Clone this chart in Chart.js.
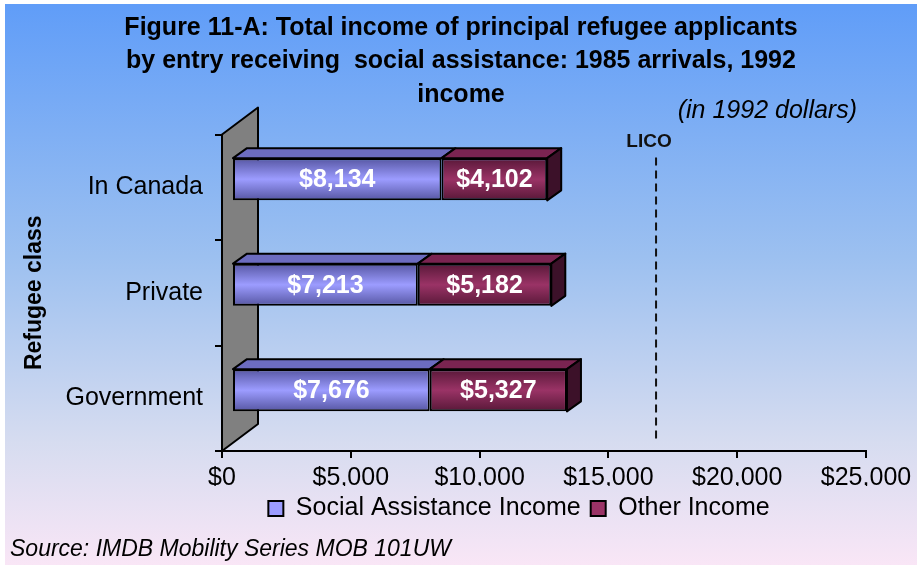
<!DOCTYPE html>
<html>
<head>
<meta charset="utf-8">
<script src="https://cdn.jsdelivr.net/npm/chart.js@4.4.1/dist/chart.umd.min.js"></script>
<style>
	html, body { margin: 0; padding: 0; background: #ffffff; }
	#wrap {
		position: relative; width: 917px; height: 566px; overflow: hidden;
		font-family: "Liberation Sans", Arial, sans-serif;
	}
	#panel {
		position: absolute; left: 5px; top: 4px; right: 0; bottom: 1px;
		background: linear-gradient(to bottom, #609df8 0%, #9cc0f0 45%, #d6dcf0 78%, #f9e6f6 100%);
	}
	#chart { position: absolute; left: 0; top: 0; }
	.note { position: absolute; font-style: italic; color: #000; white-space: nowrap; }
	#units { right: 60px; top: 95px; font-size: 25px; }
	#source { left: 10px; top: 535px; font-size: 23px; }
</style>
</head>
<body>
<div id="wrap">
	<div id="panel"></div>
	<canvas id="chart" width="917" height="566"></canvas>
	<div class="note" id="units">(in 1992 dollars)</div>
	<div class="note" id="source">Source: IMDB Mobility Series MOB 101UW</div>
</div>
<script>
// chart data
const categories = ["In Canada", "Private", "Government"];
const socialAssistance = [8134, 7213, 7676];
const otherIncome = [4102, 5182, 5327];
const seriesNames = ["Social Assistance Income", "Other Income"];
const xTicks = [0, 5000, 10000, 15000, 20000, 25000];
const LICO = 16850;

const FONT = "'Liberation Sans', Arial, sans-serif";
// 3D look: bar front sits a bit inside the floor, top face goes further back
const BAR_SHIFT = { x: 10, y: -8 };
const BAR_DEPTH = { x: 14, y: -10 };
const WALL_DEPTH = { x: 36, y: -27 };

const COLORS = [
	{ edge: "#5656a2", mid: "#9c9cff", top: "#6c6cc0", side: "#3c3c80" },
	{ edge: "#581838", mid: "#9a3366", top: "#7a2451", side: "#3c1129" }
];

function money(v) {
	return "$" + v.toLocaleString("en-US");
}

function frontGradient(c, col) {
	const chart = c.chart;
	const ys = chart.scales.y;
	if (!ys || c.dataIndex === undefined) return col.mid;
	const band = Math.abs(ys.getPixelForValue(1) - ys.getPixelForValue(0));
	const cy = ys.getPixelForValue(c.dataIndex);
	const h = band * 0.4;
	const g = chart.ctx.createLinearGradient(0, cy - h / 2, 0, cy + h / 2);
	g.addColorStop(0, col.edge);
	g.addColorStop(0.5, col.mid);
	g.addColorStop(1, col.edge);
	return g;
}

function poly(ctx, pts, fill) {
	ctx.beginPath();
	ctx.moveTo(pts[0][0], pts[0][1]);
	for (let i = 1; i < pts.length; i++) ctx.lineTo(pts[i][0], pts[i][1]);
	ctx.closePath();
	ctx.fillStyle = fill;
	ctx.fill();
	ctx.stroke();
}

const threeD = {
	id: "threeD",
	afterLayout(chart) {
		// the original centres the title on the whole panel and the legend under the plot
		if (chart.titleBlock) { chart.titleBlock.left = 5; chart.titleBlock.right = 917; }
		if (chart.legend) { chart.legend.left = 172; chart.legend.right = 866; }
	},
	beforeDatasetsDraw(chart) {
		const { ctx, chartArea: a } = chart;
		ctx.save();
		ctx.lineWidth = 2;
		ctx.strokeStyle = "#000";
		ctx.lineJoin = "round";
		// back wall on the left
		poly(ctx, [
			[a.left, a.top], [a.left + WALL_DEPTH.x, a.top + WALL_DEPTH.y],
			[a.left + WALL_DEPTH.x, a.bottom + WALL_DEPTH.y], [a.left, a.bottom]
		], "#808080");
		ctx.restore();

		// LICO reference line
		const lx = chart.scales.x.getPixelForValue(LICO);
		ctx.save();
		ctx.strokeStyle = "#111";
		ctx.lineWidth = 2;
		ctx.setLineDash([8, 5]);
		ctx.beginPath();
		ctx.moveTo(lx, a.top + 23);
		ctx.lineTo(lx, a.bottom - 9);
		ctx.stroke();
		ctx.setLineDash([]);
		ctx.fillStyle = "#111";
		ctx.font = "bold 19px " + FONT;
		ctx.textAlign = "center";
		ctx.textBaseline = "middle";
		ctx.fillText("LICO", lx - 7, a.top + 7);
		ctx.restore();

		// top and side faces, then let chart.js draw the fronts
		ctx.save();
		ctx.translate(BAR_SHIFT.x, BAR_SHIFT.y);
		ctx.lineWidth = 2;
		ctx.strokeStyle = "#000";
		ctx.lineJoin = "round";
		chart.data.datasets.forEach((ds, di) => {
			const meta = chart.getDatasetMeta(di);
			meta.data.forEach((el) => {
				const x0 = Math.min(el.base, el.x), x1 = Math.max(el.base, el.x);
				const yt = el.y - el.height / 2, yb = el.y + el.height / 2;
				poly(ctx, [[x0, yt], [x0 + BAR_DEPTH.x, yt + BAR_DEPTH.y], [x1 + BAR_DEPTH.x, yt + BAR_DEPTH.y], [x1, yt]], COLORS[di].top);
				if (di === chart.data.datasets.length - 1) {
					poly(ctx, [[x1, yt], [x1 + BAR_DEPTH.x, yt + BAR_DEPTH.y], [x1 + BAR_DEPTH.x, yb + BAR_DEPTH.y], [x1, yb]], COLORS[di].side);
				}
			});
		});
	},
	afterDatasetsDraw(chart) {
		const { ctx } = chart;
		ctx.fillStyle = "#ffffff";
		ctx.font = "bold 25px " + FONT;
		ctx.textAlign = "center";
		ctx.textBaseline = "middle";
		chart.data.datasets.forEach((ds, di) => {
			const meta = chart.getDatasetMeta(di);
			meta.data.forEach((el, i) => {
				ctx.fillText(money(ds.data[i]), (el.base + el.x) / 2, el.y + 1);
			});
		});
		ctx.restore();
	}
};

new Chart(document.getElementById("chart"), {
	type: "bar",
	data: {
		labels: categories,
		datasets: [
			{
				label: seriesNames[0],
				data: socialAssistance,
				backgroundColor: (c) => frontGradient(c, COLORS[0]),
				borderColor: "#000",
				borderWidth: 2,
				borderSkipped: false,
				barPercentage: 0.4,
				categoryPercentage: 1,
				clip: false
			},
			{
				label: seriesNames[1],
				data: otherIncome,
				backgroundColor: (c) => frontGradient(c, COLORS[1]),
				borderColor: "#000",
				borderWidth: 2,
				borderSkipped: false,
				barPercentage: 0.4,
				categoryPercentage: 1,
				clip: false
			}
		]
	},
	options: {
		indexAxis: "y",
		responsive: false,
		animation: false,
		layout: { padding: { left: 0, right: 51, top: 0, bottom: 35 } },
		scales: {
			x: {
				stacked: true,
				min: 0,
				max: 25000,
				afterBuildTicks: (s) => { s.ticks = xTicks.map(v => ({ value: v })); },
				afterFit: (s) => { s.height = 35; },
				ticks: {
					color: "#000",
					padding: 5,
					font: { family: FONT, size: 25 },
					callback: (v) => money(v)
				},
				grid: { drawOnChartArea: false, drawTicks: true, tickLength: 7, color: "#000", lineWidth: 2 },
				border: { display: true, color: "#000", width: 2 }
			},
			y: {
				stacked: true,
				afterFit: (s) => { s.width = 222; },
				ticks: {
					color: "#000",
					padding: 12,
					font: { family: FONT, size: 25 }
				},
				grid: { drawOnChartArea: false, drawTicks: true, tickLength: 7, color: "#000", lineWidth: 2 },
				border: { display: true, color: "#000", width: 2 },
				title: {
					display: true,
					text: "Refugee class",
					color: "#000",
					padding: { top: 21, bottom: 0 },
					font: { family: FONT, size: 23, weight: "bold" }
				}
			}
		},
		plugins: {
			title: {
				display: true,
				text: [
					"Figure 11-A: Total income of principal refugee applicants",
					"by entry receiving  social assistance: 1985 arrivals, 1992",
					"income"
				],
				color: "#000",
				padding: { top: 11, bottom: 23 },
				font: { family: FONT, size: 25, weight: "bold", lineHeight: 1.34 }
			},
			legend: {
				position: "bottom",
				labels: {
					color: "#000",
					boxWidth: 15,
					boxHeight: 15,
					padding: 10,
					font: { family: FONT, size: 25 },
					generateLabels: (chart) => chart.data.datasets.map((ds, i) => ({
						text: ds.label,
						fillStyle: COLORS[i].mid,
						strokeStyle: "#000",
						lineWidth: 2,
						datasetIndex: i
					}))
				}
			},
			tooltip: { enabled: false }
		}
	},
	plugins: [threeD]
});
</script>
</body>
</html>
